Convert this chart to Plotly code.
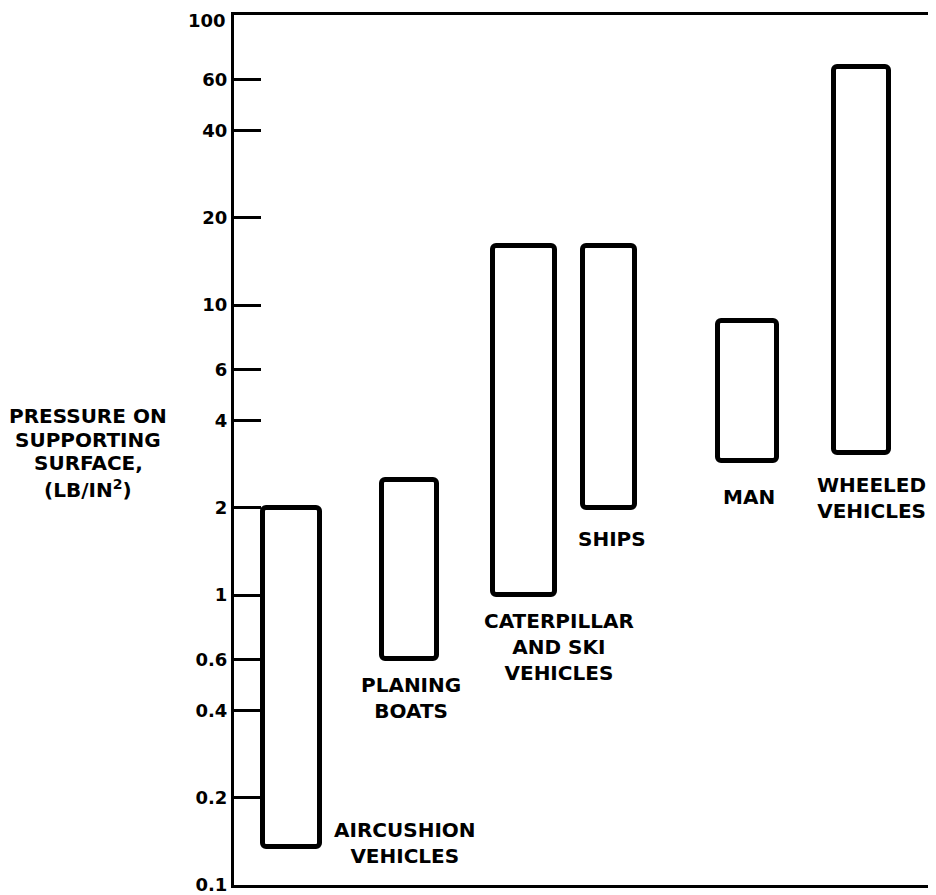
import numpy as np
import plotly.graph_objects as go

# ---- data ----
categories = ["AIRCUSHION<br>VEHICLES", "PLANING<br>BOATS", "CATERPILLAR<br>AND SKI<br>VEHICLES",
              "SHIPS", "MAN", "WHEELED<br>VEHICLES"]
low_values = [0.135, 0.6, 1.0, 2.0, 2.9, 3.1]
high_values = [2.0, 2.5, 16.0, 16.0, 8.8, 66.0]
tick_values = [0.1, 0.2, 0.4, 0.6, 1, 2, 4, 6, 10, 20, 40, 60, 100]
tick_labels = ["0.1", "0.2", "0.4", "0.6", "1", "2", "4", "6", "10", "20", "40", "60", "100"]
title_lines = ["PRESSURE ON", "SUPPORTING", "SURFACE,", "(LB/IN<sup>2</sup>)"]

# ---- layout (positions along the horizontal axis, widths, label offsets) ----
slot_pos = [57, 175, 290, 375, 513, 627]
slot_width = [57, 55, 62, 52, 59, 55]
label_anchor = ["left", "center", "center", "center", "center", "center"]
label_dx = [12, 2, 35, 3, 2, 10]
label_dy = [4, -12, -12, -17, -22, -18]
title_line_y = [416, 440, 463, 489]

FONT = "DejaVu Sans"
# page body has an 8px margin: plot area spans x 234..936, y 15..885 in the window
PX0, PX1, PY0, PY1 = 234, 936, 15, 885

fig = go.Figure()
fig.add_trace(go.Bar(
    x=slot_pos,
    y=[h - l for h, l in zip(high_values, low_values)],
    base=low_values,
    width=slot_width,
    marker=dict(color="white", line=dict(color="black", width=5), cornerradius=4),
    hoverinfo="skip",
    showlegend=False,
))

for i, name in enumerate(categories):
    fig.add_annotation(
        x=slot_pos[i] + (slot_width[i] / 2 if label_anchor[i] == "left" else 0),
        y=np.log10(low_values[i]),
        xref="x", yref="y",
        text="<b>" + name + "</b>",
        showarrow=False,
        xanchor=label_anchor[i],
        yanchor="middle" if label_anchor[i] == "left" else "top",
        xshift=label_dx[i],
        yshift=label_dy[i],
        align="center",
        font=dict(family=FONT, size=20, color="black"),
    )

# axis title, one line at a time (tighter line spacing than plotly's default)
for line, ypix in zip(title_lines, title_line_y):
    fig.add_annotation(
        xref="paper", yref="paper",
        x=(88 - PX0) / (PX1 - PX0), y=1 - (ypix - PY0) / (PY1 - PY0),
        xanchor="center", yanchor="middle",
        text="<b>" + line + "</b>",
        showarrow=False, font=dict(family=FONT, size=20, color="black"),
    )

# top tick label drawn as annotation (a tick label there would be hidden at the page edge)
fig.add_annotation(
    xref="paper", yref="y", x=0, y=np.log10(tick_values[-1]),
    xanchor="right", yanchor="middle", xshift=-6, yshift=-5,
    text="<b>" + tick_labels[-1] + "</b>", showarrow=False,
    font=dict(family=FONT, size=18, color="black"),
)

fig.update_layout(
    width=928, height=900,
    margin=dict(l=PX0 - 8, r=0, t=PY0 - 8, b=900 - (PY1 - 8)),
    paper_bgcolor="white", plot_bgcolor="white",
    bargap=0,
)
fig.update_xaxes(
    range=[0, PX1 - PX0], showgrid=False, zeroline=False, showticklabels=False, ticks="",
    showline=True, mirror=True, linecolor="black", linewidth=3,
)
fig.update_yaxes(
    type="log", range=[-1, 2], showgrid=False, zeroline=False,
    tickmode="array", tickvals=tick_values,
    ticktext=["<b>" + t + "</b>" for t in tick_labels[:-1]] + [""],
    ticks="inside", ticklen=27, tickwidth=3, tickcolor="black",
    showline=True, linecolor="black", linewidth=3,
    tickfont=dict(family=FONT, size=18, color="black"),
)

fig.write_html("out.html")
